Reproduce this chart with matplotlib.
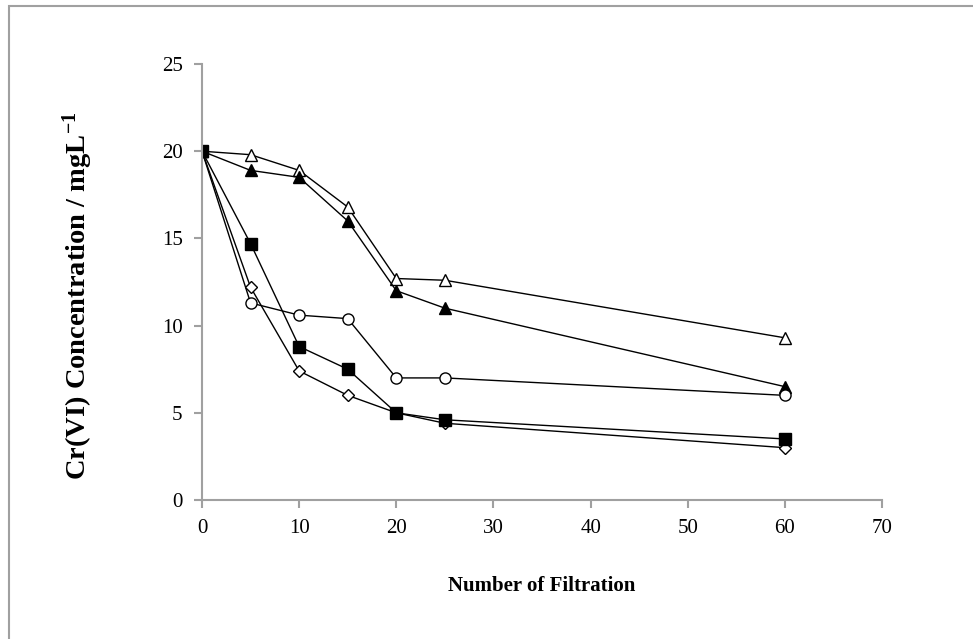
import matplotlib.pyplot as plt
from matplotlib.patches import Rectangle

# number of filtration cycles
filtration = [0, 5, 10, 15, 20, 25, 60]

# Cr(VI) concentration (mg/L) for each series
open_triangle = [20, 19.8, 18.9, 16.8, 12.7, 12.6, 9.3]
filled_triangle = [20, 18.9, 18.5, 16.0, 12.0, 11.0, 6.5]
open_circle = [20, 11.3, 10.6, 10.4, 7.0, 7.0, 6.0]
filled_square = [20, 14.7, 8.8, 7.5, 5.0, 4.6, 3.5]
open_diamond = [20, 12.2, 7.4, 6.0, 5.0, 4.4, 3.0]

x_ticks = [0, 10, 20, 30, 40, 50, 60, 70]
y_ticks = [0, 5, 10, 15, 20, 25]

plt.rcParams['font.family'] = ['Liberation Serif', 'DejaVu Serif']
plt.rcParams['mathtext.fontset'] = 'custom'
plt.rcParams['mathtext.rm'] = 'Liberation Serif'
plt.rcParams['mathtext.bf'] = 'Liberation Serif:bold'

fig = plt.figure(figsize=(9.73, 6.39), dpi=100)
ax = fig.add_axes([202/973, 1 - 500/639, 680/973, 436/639])

# outer frame (runs off the right and bottom edges)
fig.patches.append(Rectangle((9/973, -0.05), 1.2, 1 - 6/639 + 0.05,
                             transform=fig.transFigure, fill=False,
                             edgecolor='#a0a0a0', linewidth=1.5))

lw = 1.0
ax.plot(filtration, open_triangle, color='black', lw=lw, marker='^',
        markersize=8, markerfacecolor='white', markeredgecolor='black', markeredgewidth=1)
ax.plot(filtration, filled_triangle, color='black', lw=lw, marker='^',
        markersize=8, markerfacecolor='black', markeredgecolor='black')
ax.plot(filtration, open_circle, color='black', lw=lw, marker='o',
        markersize=8, markerfacecolor='white', markeredgecolor='black', markeredgewidth=1)
ax.plot(filtration, open_diamond, color='black', lw=lw, marker='D',
        markersize=6.5, markerfacecolor='white', markeredgecolor='black', markeredgewidth=1)
ax.plot(filtration, filled_square, color='black', lw=lw, marker='s',
        markersize=8.5, markerfacecolor='black', markeredgecolor='black')

ax.set_xlim(0, 70)
ax.set_ylim(0, 25)
ax.set_xticks(x_ticks)
ax.set_yticks(y_ticks)

for side in ['top', 'right']:
    ax.spines[side].set_visible(False)
for side in ['left', 'bottom']:
    ax.spines[side].set_color('#a0a0a0')
    ax.spines[side].set_linewidth(1.5)
ax.tick_params(axis='both', colors='#a0a0a0', width=1.5, length=6,
               labelsize=15, labelcolor='black', pad=8)

ax.set_xlabel('Number of Filtration', fontsize=15, fontweight='bold')
ax.xaxis.set_label_coords(0.5, -0.175)
ax.set_ylabel('Cr(VI) Concentration / mgL$\\mathbf{^{-1}}$', fontsize=20.5,
              fontweight='bold')
ax.yaxis.set_label_coords(-0.158, 0.468)

fig.savefig('out.png', dpi=100)
